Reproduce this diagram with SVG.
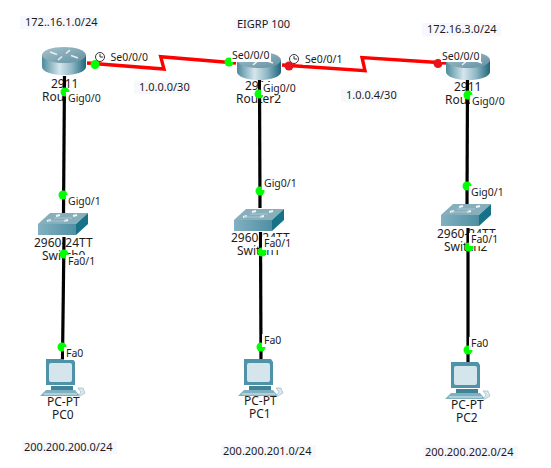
<svg xmlns="http://www.w3.org/2000/svg" xmlns:xlink="http://www.w3.org/1999/xlink" width="551" height="468" viewBox="0 0 551 468">
<style>
text{font-family:"Noto Sans","DejaVu Sans",sans-serif;font-size:11px;fill:#1c1c1c}
.dev{font-size:12px}
.port{font-size:10.5px}
.eth{stroke:#000;stroke-width:3.200;fill:none}
.ser{stroke:#f00;stroke-width:3.400;fill:none;stroke-linejoin:miter}
.up{fill:#0f0}
.dn{fill:#e8141c}
.bg{fill:#fff}
.note{fill:#f7f8fd}
.clk{fill:#fff;stroke:#333;stroke-width:1}
</style>
<defs>
<linearGradient id="rs" x1="0" x2="1" y1="0" y2="0"><stop offset="0" stop-color="#4c8a9d"/><stop offset=".4" stop-color="#d5e6ec"/><stop offset=".68" stop-color="#8fb8c6"/><stop offset="1" stop-color="#1f6679"/></linearGradient>
<linearGradient id="rt" x1="0" x2="1" y1="0" y2="1"><stop offset="0" stop-color="#a6c2cd"/><stop offset="1" stop-color="#6390a1"/></linearGradient>
<linearGradient id="sf" x1="0" x2="1" y1="0" y2="0"><stop offset="0" stop-color="#82b1c1"/><stop offset="1" stop-color="#4f8fa3"/></linearGradient>
<symbol id="router" width="46" height="30" viewBox="0 0 46 30" overflow="visible">
<path d="M0 8V20A22 8 0 0 0 44 20V8Z" fill="url(#rs)"/>
<ellipse cx="22" cy="8" rx="22" ry="8" fill="url(#rt)"/>
<path d="M8 5l7 2.500M36 11l-7-2.500M28 3l-4 3.500M16 13l4-3.500" stroke="#e6f0f3" stroke-width="1.600" fill="none"/>
</symbol>
<symbol id="switch" width="52" height="26" viewBox="0 0 52 26" overflow="visible">
<path d="M0 13L12 2H50L38 13Z" fill="#87aebb"/>
<path d="M0 13H38V24H0Z" fill="url(#sf)"/>
<path d="M38 13L50 2V13L38 24Z" fill="#177287"/>
<path d="M9 10l4-1M26 10l4-1M18 5l4-1M35 5l4-1" stroke="#f2f7f9" stroke-width="2"/>
<path d="M16 7H34M10 10H28" stroke="#a9c6d0" stroke-width="1"/>
</symbol>
<symbol id="pc" width="48" height="40" viewBox="0 0 48 40" overflow="visible">
<path d="M6 0H33L35 3V26H6Z" fill="#4f93a8"/>
<rect x="9" y="4" width="23" height="19" rx="2" fill="#d5e5ec"/>
<path d="M11 27H33V31H11Z" fill="#3e8397"/>
<path d="M6 31H35L40 37H0Z" fill="#7fb1c1"/>
<path d="M4 35H37" stroke="#e0ecf0" stroke-width="1"/>
<path d="M38 29h5l2 5-5 3h-2l3-4Z" fill="#dbe7eb" stroke="#8fb0bb" stroke-width=".6"/>
</symbol>
</defs>
<rect width="551" height="468" fill="#fff"/>
<g id="notes">
<rect class="note" x="20" y="16" width="79" height="13"/><text x="25" y="26">172..16.1.0/24</text>
<rect class="note" x="234" y="18" width="58" height="13"/><text x="237" y="28">EIGRP 100</text>
<rect class="note" x="422" y="23" width="79" height="13"/><text x="427" y="33">172.16.3.0/24</text>
<rect class="note" x="134" y="81" width="57" height="13"/><text x="139" y="91">1.0.0.0/30</text>
<rect class="note" x="341" y="89" width="57" height="13"/><text x="346" y="99">1.0.0.4/30</text>
<rect class="note" x="22" y="441" width="95" height="13"/><text x="24" y="451">200.200.200.0/24</text>
<rect class="note" x="221" y="445" width="95" height="13"/><text x="223" y="455">200.200.201.0/24</text>
<rect class="note" x="423" y="446" width="95" height="13"/><text x="425" y="456">200.200.202.0/24</text>
</g>
<g id="router0"><use href="#router" xlink:href="#router" x="42" y="47"/><text class="dev" x="51" y="88">2911</text><text class="dev" x="42" y="101">Router0</text></g>
<g id="router2"><use href="#router" xlink:href="#router" x="237" y="52"/><text class="dev" x="245" y="90">2911</text><text class="dev" x="236" y="103">Router2</text></g>
<g id="router3"><use href="#router" xlink:href="#router" x="446" y="52"/><text class="dev" x="454" y="91">2911</text><text class="dev" x="445" y="104">Router1</text></g>
<g id="switch0"><use href="#switch" xlink:href="#switch" x="38" y="211"/><text class="dev" x="34" y="247">2960-24TT</text><text class="dev" x="42" y="260">Switch0</text></g>
<g id="switch1"><use href="#switch" xlink:href="#switch" x="234" y="207"/><text class="dev" x="231" y="242">2960-24TT</text><text class="dev" x="237" y="255">Switch1</text></g>
<g id="switch2"><use href="#switch" xlink:href="#switch" x="441" y="202"/><text class="dev" x="437" y="238">2960-24TT</text><text class="dev" x="444" y="251">Switch2</text></g>
<g id="pc0"><use href="#pc" xlink:href="#pc" x="40" y="359"/><text class="dev" x="47" y="406">PC-PT</text><text class="dev" x="52" y="419">PC0</text></g>
<g id="pc1"><use href="#pc" xlink:href="#pc" x="238" y="359"/><text class="dev" x="244" y="405">PC-PT</text><text class="dev" x="249" y="418">PC1</text></g>
<g id="pc2"><use href="#pc" xlink:href="#pc" x="445" y="362"/><text class="dev" x="451" y="409">PC-PT</text><text class="dev" x="456" y="422">PC2</text></g>
<g id="connectors">
<path class="eth" d="M64.500 76L63.500 213"/>
<path class="eth" d="M64 237L62.500 359"/>
<path class="eth" d="M259.500 80L260 208"/>
<path class="eth" d="M260.500 232L261 359"/>
<path class="eth" d="M467.500 80L467 204"/>
<path class="eth" d="M468 228L468 362"/>
<path class="ser" d="M87 63L164 69L160.700 56.700L236 63"/>
<path class="ser" d="M282 65L365 70.700L362 57.500L446 63"/>
<circle class="up" cx="95" cy="64.500" r="4.500"/>
<circle class="up" cx="229" cy="62" r="4.500"/>
<circle class="dn" cx="289" cy="66" r="4.500"/>
<circle class="dn" cx="438" cy="63.500" r="4.500"/>
<circle class="up" cx="65" cy="92" r="4.500"/>
<circle class="up" cx="63" cy="195" r="4.500"/>
<circle class="up" cx="64" cy="254" r="4.500"/>
<circle class="up" cx="62" cy="347" r="4.500"/>
<circle class="up" cx="259" cy="94" r="4.500"/>
<circle class="up" cx="260" cy="191" r="4.500"/>
<circle class="up" cx="262" cy="252" r="4.500"/>
<circle class="up" cx="261" cy="347" r="4.500"/>
<circle class="up" cx="468" cy="95" r="4.500"/>
<circle class="up" cx="467" cy="186" r="4.500"/>
<circle class="up" cx="469" cy="247" r="4.500"/>
<circle class="up" cx="468" cy="350" r="4.500"/>
<circle class="clk" cx="100" cy="57" r="4.500"/><path d="M100 54V57H103" stroke="#333" fill="none"/>
<circle class="clk" cx="294" cy="59" r="4.500"/><path d="M294 56V59H297" stroke="#333" fill="none"/>
<g id="port-labels">
<rect class="bg" x="108" y="50" width="42" height="13"/><text class="port" x="110.500" y="61">Se0/0/0</text>
<rect class="bg" x="231" y="50" width="40" height="12"/><text class="port" x="232" y="59">Se0/0/0</text>
<rect class="bg" x="303" y="52" width="42" height="13"/><text class="port" x="305" y="63">Se0/0/1</text>
<rect class="bg" x="441" y="50" width="40" height="12"/><text class="port" x="442" y="60">Se0/0/0</text>
<rect class="bg" x="66" y="92" width="35" height="13"/><text class="port" x="68" y="102">Gig0/0</text>
<rect class="bg" x="261" y="82" width="35" height="13"/><text class="port" x="263" y="92">Gig0/0</text>
<rect class="bg" x="470" y="95" width="35" height="13"/><text class="port" x="472" y="105">Gig0/0</text>
<rect class="bg" x="66" y="195" width="35" height="13"/><text class="port" x="68" y="205">Gig0/1</text>
<rect class="bg" x="262" y="177" width="35" height="13"/><text class="port" x="264" y="187">Gig0/1</text>
<rect class="bg" x="469" y="186" width="35" height="13"/><text class="port" x="471" y="196">Gig0/1</text>
<rect class="bg" x="66" y="255" width="30" height="13"/><text class="port" x="68" y="265">Fa0/1</text>
<rect class="bg" x="262" y="237" width="30" height="13"/><text class="port" x="264" y="247">Fa0/1</text>
<rect class="bg" x="469" y="233" width="30" height="13"/><text class="port" x="471" y="243">Fa0/1</text>
<rect class="bg" x="64" y="347" width="20" height="13"/><text class="port" x="66" y="357">Fa0</text>
<rect class="bg" x="262" y="334" width="20" height="13"/><text class="port" x="264" y="344">Fa0</text>
<rect class="bg" x="469" y="337" width="20" height="13"/><text class="port" x="471" y="347">Fa0</text>
</g>
</g>
</svg>
